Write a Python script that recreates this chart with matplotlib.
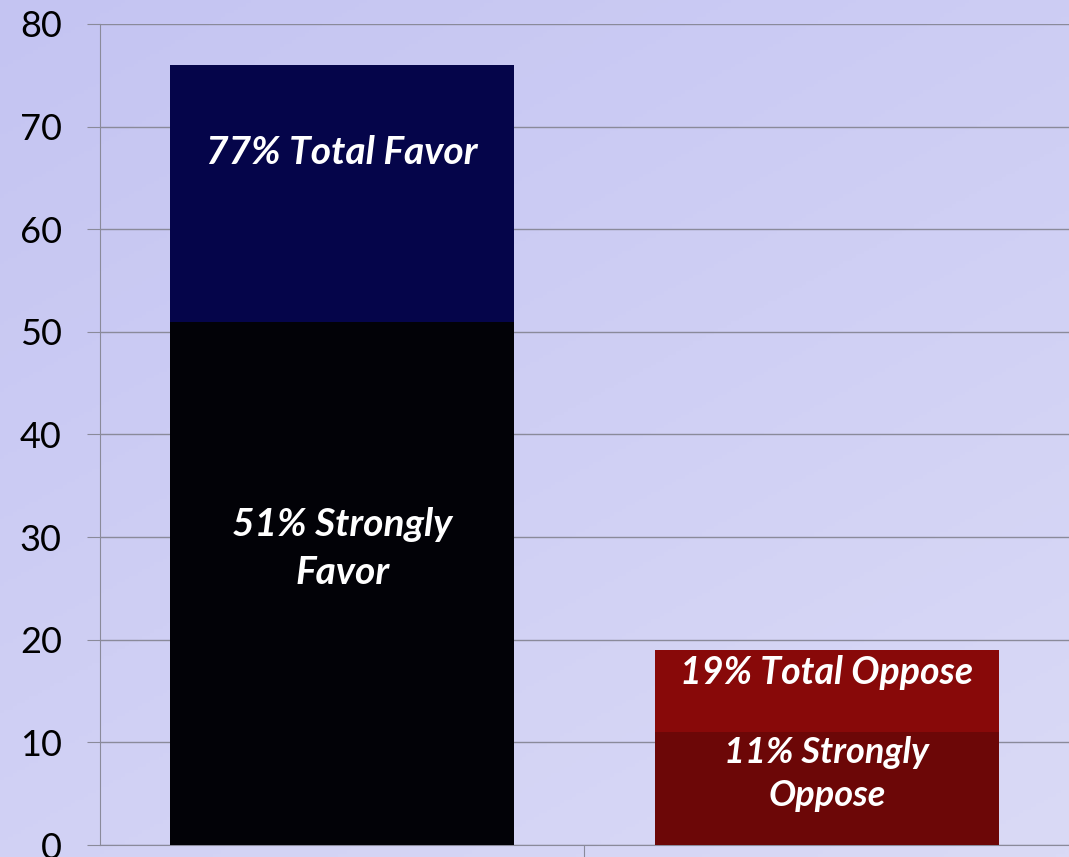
import numpy as np
import matplotlib.pyplot as plt

categories = ["Favor", "Oppose"]
strongly = [51, 11]
somewhat = [25, 8]
strong_colors = ["#020207", "#6c0707"]
total_colors = ["#05054a", "#880909"]
total_labels = ["77% Total Favor", "19% Total Oppose"]
strong_labels = ["51% Strongly\nFavor", "11% Strongly\nOppose"]
total_label_y = [67.5, 16.8]
strong_label_y = [28.9, 6.9]
yticks = [0, 10, 20, 30, 40, 50, 60, 70, 80]

plt.rcParams['font.family'] = ['Lato', 'DejaVu Sans']

fig = plt.figure(figsize=(10.69, 8.57), dpi=100)

# lavender gradient background
bg = fig.add_axes([0, 0, 1, 1], zorder=-10)
g = np.linspace(0, 1, 256)
grad = np.outer(g, np.ones(256)) * 0.6 + np.outer(np.ones(256), g) * 0.4
bg.imshow(grad, cmap=plt.matplotlib.colors.LinearSegmentedColormap.from_list(
    "lav", ["#c4c4f2", "#dadaf6"]), aspect="auto", extent=[0, 1, 0, 1], origin="upper")
bg.axis("off")

ax = fig.add_axes([0.0935, 0.014, 0.9065, 0.958])
ax.patch.set_alpha(0)

x = np.arange(len(categories))
ax.bar(x, strongly, width=0.71, color=strong_colors, zorder=3)
ax.bar(x, somewhat, width=0.71, bottom=strongly, color=total_colors, zorder=3)

total_sizes = [28, 27]
strong_sizes = [28, 26]
spacing = [1.42, 1.38]
for i in range(len(categories)):
    ax.text(x[i], total_label_y[i], total_labels[i], color="white", fontsize=total_sizes[i],
            fontweight="bold", fontstyle="italic", ha="center", va="center", zorder=4)
    ax.text(x[i], strong_label_y[i], strong_labels[i], color="white",
            fontsize=strong_sizes[i], fontweight="bold", fontstyle="italic",
            ha="center", va="center", linespacing=spacing[i], zorder=4)

ax.set_xlim(-0.5, 1.5)
ax.set_ylim(0, 80)
ax.set_yticks(yticks)
ax.set_yticklabels([str(t) for t in yticks], fontsize=26)
ax.set_xticks([0.5])
ax.set_xticklabels([""])
ax.grid(axis="y", color="#8a8a9a", linewidth=1, zorder=0)
for s in ["top", "right"]:
    ax.spines[s].set_visible(False)
for s in ["left", "bottom"]:
    ax.spines[s].set_color("#8a8a9a")
ax.tick_params(axis="y", length=9.4, color="#8a8a9a", pad=18)
ax.tick_params(axis="x", length=9.4, color="#8a8a9a")

plt.savefig("out.png", dpi=100)
